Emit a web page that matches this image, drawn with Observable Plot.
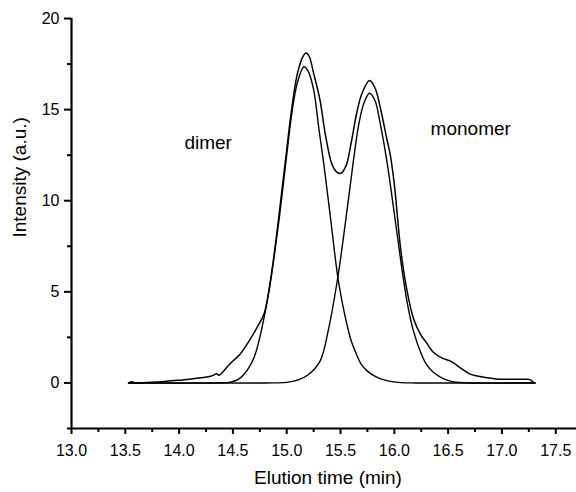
<!DOCTYPE html>
<html>
<head>
<meta charset="utf-8">
<script src="https://cdn.jsdelivr.net/npm/d3@7"></script>
<script src="https://cdn.jsdelivr.net/npm/@observablehq/plot@0.6"></script>
<style>
  html, body { margin: 0; padding: 0; background: #fff; }
  #chart { width: 576px; height: 492px; }
</style>
</head>
<body>
<div id="chart"></div>
<script>
// ---- Data ----
const measuredTime = [13.53, 13.56, 13.6, 13.7, 13.8, 13.9, 14.0, 14.1, 14.2, 14.3, 14.35, 14.37, 14.45, 14.5, 14.57, 14.65, 14.72, 14.79, 14.84, 14.88, 14.93, 14.99, 15.05, 15.1, 15.15, 15.18, 15.21, 15.25, 15.31, 15.36, 15.42, 15.46, 15.5, 15.55, 15.6, 15.65, 15.7, 15.77, 15.82, 15.87, 15.93, 15.96, 16.0, 16.06, 16.12, 16.18, 16.25, 16.3, 16.36, 16.45, 16.5, 16.55, 16.62, 16.7, 16.77, 16.85, 16.95, 17.1, 17.24, 17.27, 17.29, 17.31];
const measuredIntensity = [0.0, 0.06, 0.0, 0.03, 0.05, 0.1, 0.15, 0.2, 0.28, 0.38, 0.5, 0.42, 0.9, 1.2, 1.6, 2.3, 3.0, 3.8, 5.3, 6.9, 9.3, 12.3, 15.2, 17.0, 17.9, 18.1, 17.9, 17.0, 15.5, 13.6, 12.0, 11.6, 11.5, 11.9, 13.2, 14.8, 15.9, 16.6, 16.2, 15.1, 13.4, 12.6, 10.9, 7.3, 5.0, 3.5, 2.6, 2.2, 1.7, 1.35, 1.25, 1.1, 0.8, 0.5, 0.38, 0.3, 0.22, 0.2, 0.2, 0.15, 0.05, 0.0];

const dimerTime = [13.53, 14.3, 14.4, 14.45, 14.5, 14.55, 14.6, 14.65, 14.7, 14.75, 14.79, 14.84, 14.88, 14.93, 14.99, 15.05, 15.1, 15.16, 15.2, 15.25, 15.3, 15.345, 15.4, 15.475, 15.52, 15.56, 15.6, 15.65, 15.69, 15.75, 15.84, 15.95, 16.06, 16.2, 17.3];
const dimerIntensity = [0, 0, 0.01, 0.02, 0.08, 0.2, 0.45, 0.85, 1.45, 2.5, 3.6, 5.2, 6.8, 9.0, 12.0, 14.9, 16.5, 17.35, 17.1, 16.1, 13.9, 12.0, 9.4, 5.8, 4.3, 3.2, 2.3, 1.55, 1.05, 0.65, 0.3, 0.1, 0.02, 0, 0];

const monomerTime = [13.53, 14.8, 15.0, 15.1, 15.2, 15.31, 15.39, 15.475, 15.55, 15.62, 15.67, 15.72, 15.77, 15.82, 15.87, 15.93, 16.0, 16.06, 16.12, 16.18, 16.25, 16.3, 16.36, 16.45, 16.52, 16.6, 16.7, 17.3];
const monomerIntensity = [0, 0, 0.03, 0.15, 0.45, 1.2, 3.0, 5.8, 9.0, 12.2, 14.2, 15.4, 15.9, 15.5, 14.2, 12.2, 9.3, 6.7, 4.4, 2.8, 1.6, 1.0, 0.6, 0.25, 0.1, 0.03, 0, 0];

const labelNames = ["dimer", "monomer"];
const labelTime = [14.27, 16.71];
const labelIntensity = [13.2, 13.95];

const xTicks = [13.0, 13.5, 14.0, 14.5, 15.0, 15.5, 16.0, 16.5, 17.0, 17.5];
const xMinorTicks = [13.25, 13.75, 14.25, 14.75, 15.25, 15.75, 16.25, 16.75, 17.25];
const yTicks = [0, 5, 10, 15, 20];
const yMinorTicks = [-2.5, 2.5, 7.5, 12.5, 17.5];

const xTitle = "Elution time (min)";
const yTitle = "Intensity (a.u.)";

// ---- Build tables ----
const measured = measuredTime.map((t, i) => ({t, v: measuredIntensity[i]}));
const dimer = dimerTime.map((t, i) => ({t, v: dimerIntensity[i]}));
const monomer = monomerTime.map((t, i) => ({t, v: monomerIntensity[i]}));
const labels = labelNames.map((name, i) => ({name, t: labelTime[i], v: labelIntensity[i]}));

const font = "'Liberation Sans', Arial, Helvetica, sans-serif";

const chart = Plot.plot({
  width: 576,
  height: 492,
  marginLeft: 71,
  marginRight: 0,
  marginTop: 18,
  marginBottom: 64,
  style: {fontFamily: font, fontSize: "16px", color: "#000", background: "#fff", overflow: "visible"},
  x: {domain: [13, 17.693]},
  y: {domain: [-2.5, 20]},
  marks: [
    Plot.axisX({ticks: xTicks, tickSize: 6, tickPadding: 10, tickFormat: d3.format(".1f"), fontSize: 16, label: null, stroke: "#000", strokeWidth: 2, fill: "#000"}),
    Plot.axisX({ticks: xMinorTicks, tickSize: 4, tickFormat: () => "", label: null, stroke: "#000", strokeWidth: 2}),
    Plot.axisY({ticks: yTicks, tickSize: 7, tickPadding: 5, tickFormat: d => String(d), fontSize: 16, label: null, stroke: "#000", strokeWidth: 2, fill: "#000"}),
    Plot.axisY({ticks: yMinorTicks, tickSize: 4, tickFormat: () => "", label: null, stroke: "#000", strokeWidth: 2}),
    Plot.ruleX([13], {stroke: "#000", strokeWidth: 2.2}),
    Plot.ruleY([-2.5], {stroke: "#000", strokeWidth: 2.2}),
    Plot.line(dimer, {x: "t", y: "v", stroke: "#000", strokeWidth: 1.4, curve: "catmull-rom"}),
    Plot.line(monomer, {x: "t", y: "v", stroke: "#000", strokeWidth: 1.4, curve: "catmull-rom"}),
    Plot.line(measured, {x: "t", y: "v", stroke: "#000", strokeWidth: 1.5, curve: "catmull-rom"}),
    Plot.text(labels, {x: "t", y: "v", text: "name", fontSize: 19, fill: "#000"}),
    Plot.text([xTitle], {frameAnchor: "bottom", dx: 4, dy: 55, text: d => d, fontSize: 19, fill: "#000"}),
    Plot.text([yTitle], {frameAnchor: "left", rotate: -90, dx: -52, dy: 14, text: d => d, fontSize: 19, fill: "#000"})
  ]
});
document.getElementById("chart").appendChild(chart);
</script>
</body>
</html>
